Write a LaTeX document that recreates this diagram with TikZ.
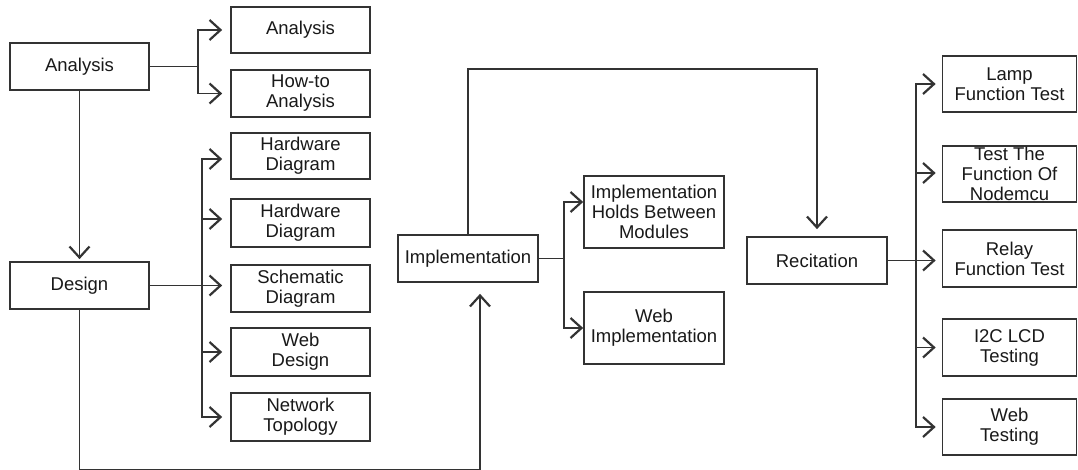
\documentclass[tikz,border=0pt]{standalone}
\usepackage{fontspec}
\setmainfont{Liberation Sans}
\usetikzlibrary{arrows.meta,calc}
\definecolor{ln}{HTML}{333333}
\begin{document}
\begin{tikzpicture}[x=1pt,y=-1pt,
  box/.style={draw=ln,line width=1.7pt,inner sep=0pt,align=center,
    font=\fontsize{18.5}{20}\selectfont,text=black!90},
  wbox/.style={box,minimum width=139pt,minimum height=47pt},
  rbox/.style={box,minimum width=134pt,minimum height=56pt},
  ibox/.style={box,minimum width=140pt,minimum height=72pt},
  conn/.style={draw=ln,line width=1.7pt},
  arr/.style={conn,-{Straight Barb[length=11pt,width=20pt,line width=2.2pt]}}]
\useasboundingbox (0,0) rectangle (1078,470);
\fill[white] (0,0) rectangle (1078,470);
% left column
\node[wbox] (A0) at (79.5,66.5) {Analysis};
\node[wbox] (Des) at (79.5,285.5) {Design};
\node[wbox,minimum height=46pt] (A1) at (300.5,30) {Analysis};
\node[wbox] (A2) at (300.5,93.5) {How-to\\Analysis};
\node[wbox,minimum height=46pt] (D1) at (300.5,156) {Hardware\\Diagram};
\node[wbox,minimum height=48pt] (D2) at (300.5,223) {Hardware\\Diagram};
\node[wbox] (D3) at (300.5,288.5) {Schematic\\Diagram};
\node[wbox,minimum height=48pt] (D4) at (300.5,352) {Web\\Design};
\node[wbox,minimum height=48pt] (D5) at (300.5,417) {Network\\Topology};
% middle
\node[wbox,minimum width=140pt] (Imp) at (468,258.5) {Implementation};
\node[ibox] (I1) at (654,212) {Implementation\\Holds Between\\Modules};
\node[ibox] (I2) at (654,328) {Web\\Implementation};
% right
\node[wbox,minimum width=140pt] (Rec) at (817,260.5) {Recitation};
\node[rbox] (R1) at (1009.5,84) {Lamp\\Function Test};
\node[rbox] (R2) at (1009.5,174) {Test The\\Function Of\\Nodemcu};
\node[rbox,minimum height=57pt] (R3) at (1009.5,258.5) {Relay\\Function Test};
\node[rbox,minimum height=57pt] (R4) at (1009.5,347.5) {I2C LCD\\Testing};
\node[rbox] (R5) at (1009.5,427) {Web\\Testing};
% fork coordinates
\coordinate (fa) at (198,66.5);
\coordinate (fd) at (202,285.5);
\coordinate (fi) at (564,258.5);
\coordinate (fr) at (916,258.5);
\coordinate (top) at (468,69);
\coordinate (b1) at (79.5,469.5);
\coordinate (b2) at (480,469.5);
% analysis
\draw[conn] (A0.east) -- (fa);
\draw[arr,shorten >=8pt] (fa) |- (A1.west);
\draw[arr,shorten >=8pt] (fa) |- (A2.west);
\draw[arr,shorten >=2pt] (A0.south) -- (Des.north);
% design
\draw[arr,shorten >=8pt] (fd) |- ($(D1.west)+(0,3)$);
\draw[arr,shorten >=8pt] (fd) |- ($(D2.west)+(0,-4)$);
\draw[arr,shorten >=8pt] (Des.east) -- (Des.east -| D3.west);
\draw[arr,shorten >=8pt] (fd) |- (D4.west);
\draw[arr,shorten >=8pt] (fd) |- (D5.west);
\draw[arr,shorten >=11pt] (Des.south) -- (b1) -- (b2) -- (b2 |- Imp.south);
% implementation
\draw[conn] (Imp.east) -- (fi);
\draw[arr] (fi) |- ($(I1.west)+(0,-10)$);
\draw[arr] (fi) |- (I2.west);
\draw[arr,shorten >=7pt] (Imp.north) -- (top) -| (Rec.north);
% recitation
\draw[arr,shorten >=6pt] (Rec.east) -- (Rec.east -| R3.west);
\draw[arr,shorten >=6pt] (fr) |- (R1.west);
\draw[arr,shorten >=6pt] (fr) |- ($(R2.west)+(0,-1)$);
\draw[arr,shorten >=6pt] (fr) |- (R4.west);
\draw[arr,shorten >=6pt] (fr) |- (R5.west);
\end{tikzpicture}
\end{document}
